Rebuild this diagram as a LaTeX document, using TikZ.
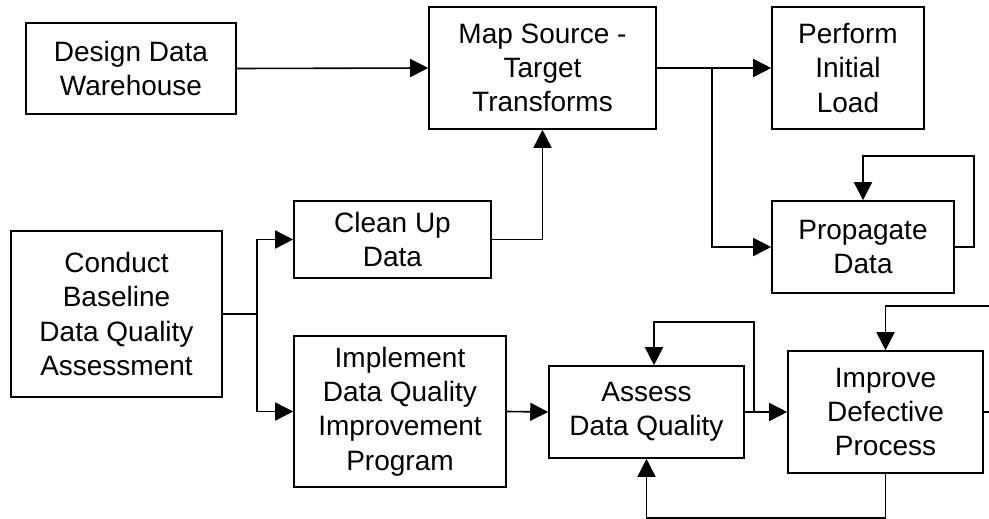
\documentclass[tikz,border=0pt]{standalone}
\usepackage{fontspec}
\setmainfont{Liberation Sans}
\usetikzlibrary{arrows.meta}

\begin{document}
\begin{tikzpicture}[x=1pt, y=-1pt,
  box/.style={draw, line width=1.6pt, rectangle, align=center, inner sep=0pt,
    font=\fontsize{28pt}{34.3pt}\selectfont},
  link/.style={line width=1.6pt},
  arr/.style={link, -{Triangle[length=18pt, width=18pt]}}]

  % page frame
  \clip (0,0) rectangle (989,519);

  % process boxes
  \node[box, minimum width=210pt, minimum height=91pt]  (design)    at (131,68.5)  {Design Data\\Warehouse};
  \node[box, minimum width=227pt, minimum height=122pt] (map)       at (542.5,68)  {Map Source -\\Target\\Transforms};
  \node[box, minimum width=152pt, minimum height=122pt] (perform)   at (848,68)    {Perform\\Initial\\Load};
  \node[box, minimum width=182pt, minimum height=92pt]  (propagate) at (863,247)   {Propagate\\Data};
  \node[box, minimum width=197pt, minimum height=77pt]  (clean)     at (392.5,239.5) {Clean Up\\Data};
  \node[box, minimum width=211pt, minimum height=166pt] (conduct)   at (116.5,314) {Conduct\\Baseline\\Data Quality\\Assessment};
  \node[box, minimum width=212pt, minimum height=151pt] (implement) at (400,411.5) {Implement\\Data Quality\\Improvement\\Program};
  \node[box, minimum width=195pt, minimum height=92pt]  (assess)    at (646.5,412) {Assess\\Data Quality};
  \node[box, minimum width=195pt, minimum height=122pt] (improve)   at (885.5,412) {Improve\\Defective\\Process};

  % junction points
  \coordinate (jmap)    at (712,68);
  \coordinate (jbase)   at (257,314);
  \coordinate (jassess) at (754,412);

  % top row
  \draw[arr] (design.east) -- (map.west);
  \draw[arr] (map.east) -- (perform.west);
  \draw[arr] (jmap) |- (propagate.west);
  \draw[arr] (propagate.east) -- ++(19,0) -- ++(0,-91) -| (propagate.north);

  % baseline assessment branches
  \draw[link] (conduct.east) -- (jbase);
  \draw[arr] (jbase) |- (clean.west);
  \draw[arr] (jbase) |- (implement.west);
  \draw[arr] (clean.east) -| (map.south);

  % improvement cycle
  \draw[arr] (implement.east) -- (assess.west);
  \draw[arr] (assess.east) -- (improve.west);
  \draw[arr] (jassess) -- ++(0,-90) -| ([xshift=7.5pt]assess.north);
  \draw[arr] (improve.south) -- ++(0,44) -| (assess.south);
  \draw[arr] (improve.east) -- ++(30,0) -- ++(0,-106) -| (improve.north);
\end{tikzpicture}
\end{document}
